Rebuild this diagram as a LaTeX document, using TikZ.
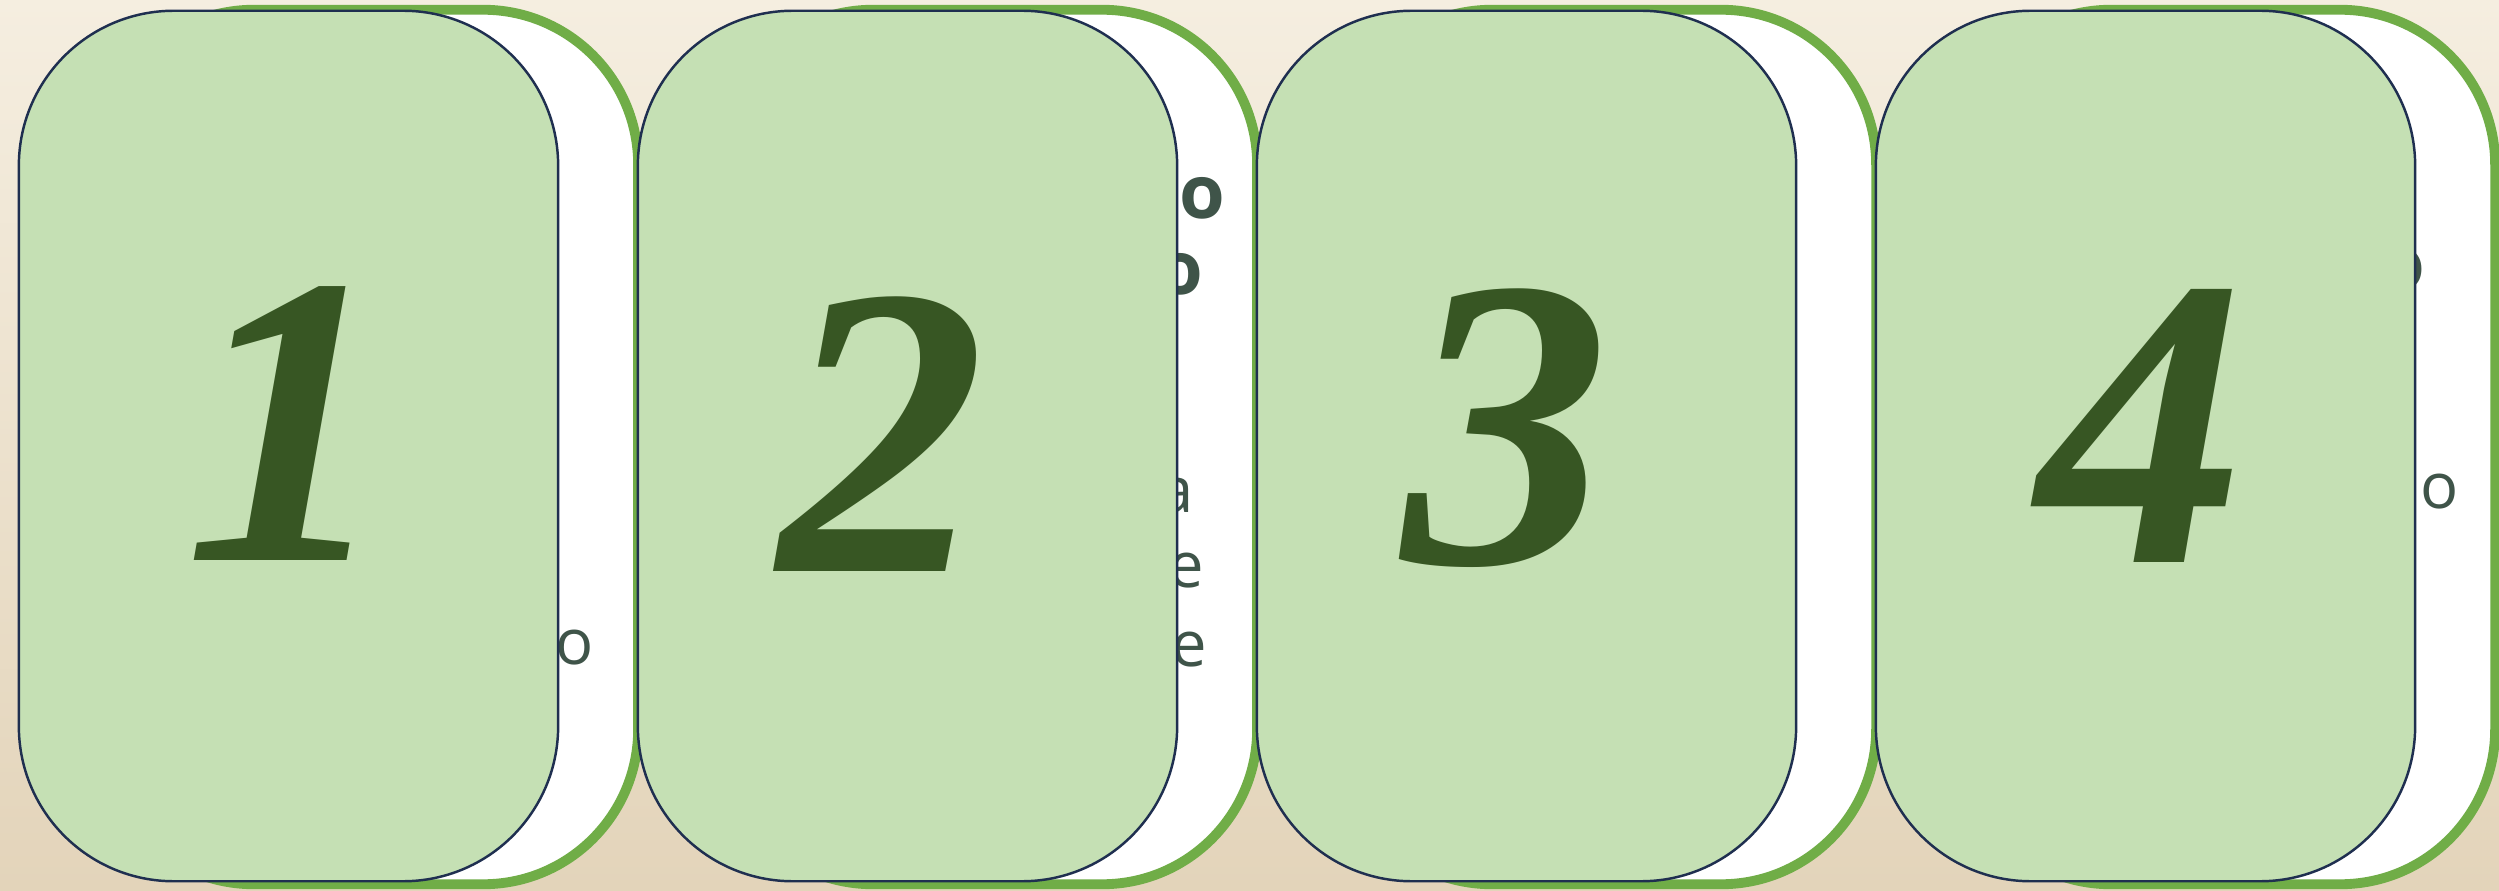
\documentclass[tikz,border=0pt]{standalone}
\usepackage{fontspec}
\setsansfont{Open Sans}
\newfontfamily\numfont{Liberation Serif}
\usetikzlibrary{positioning}
\definecolor{bgtop}{HTML}{F5EEE0}
\definecolor{bgbot}{HTML}{E3D4BA}
\definecolor{cardfill}{HTML}{C5E0B4}
\definecolor{cardink}{HTML}{1F2F50}
\definecolor{backline}{HTML}{70AD47}
\definecolor{numink}{HTML}{375623}
\definecolor{peekink}{HTML}{3F5449}

\begin{document}
\begin{tikzpicture}[
  x=0.01cm, y=-0.01cm,
  back/.style  = {draw=backline, line width=2.8pt, fill=white,
                  rounded corners=1.55cm, minimum width=5.39cm,
                  minimum height=8.74cm, inner sep=0pt, anchor=center},
  front/.style = {draw=cardink, line width=0.7pt, fill=cardfill,
                  rounded corners=1.55cm, minimum width=5.39cm,
                  minimum height=8.70cm, inner sep=0pt, anchor=center},
  num/.style   = {font=\numfont\bfseries\itshape\fontsize{118}{124}\selectfont,
                  text=numink, inner sep=0pt},
  peek/.style  = {font=\sffamily\fontsize{18}{20}\selectfont,
                  text=peekink, inner sep=0pt},
  peekb/.style = {font=\sffamily\bfseries\fontsize{21}{24}\selectfont,
                  text=peekink, inner sep=0pt}
]
\useasboundingbox (0,0) rectangle (2499,891);
\shade[top color=bgtop, bottom color=bgbot] (0,0) rectangle (2499,891);

% card 1
\node[back]  (b1) at (368.5,447) {};
\node[peek]  (p1) at (575,648) {o};
\node[front] (f1) at (288.5,446) {};
\node[num]   (n1) at (288,424) {1};

% card 2
\node[back]  (b2) at (987.5,447) {};
\node[peekb] (p2) at (1202,198) {o};
\node[peekb, anchor=east] (p3) at (1204,274) {o};
\node[peek, anchor=east]  (p4) at (1194,496) {a};
\node[peek, anchor=east]  (p5) at (1205,571) {e};
\node[peek, anchor=east]  (p6) at (1208,650) {e};
\node[front] (f2) at (907.5,446) {};
\node[num]   (n2) at (882,434) {2};

% card 3
\node[back]  (b3) at (1606.5,447) {};
\node[front] (f3) at (1526.5,446) {};
\node[num]   (n3) at (1506,428) {3};

% card 4
\node[back]  (b4) at (2225.5,447) {};
\node[peekb, anchor=east] (p7) at (2426,269) {o};
\node[peek]  (p8) at (2440,492) {o};
\node[front] (f4) at (2145.5,446) {};
\node[num]   (n4) at (2141,426) {4};

\end{tikzpicture}
\end{document}
